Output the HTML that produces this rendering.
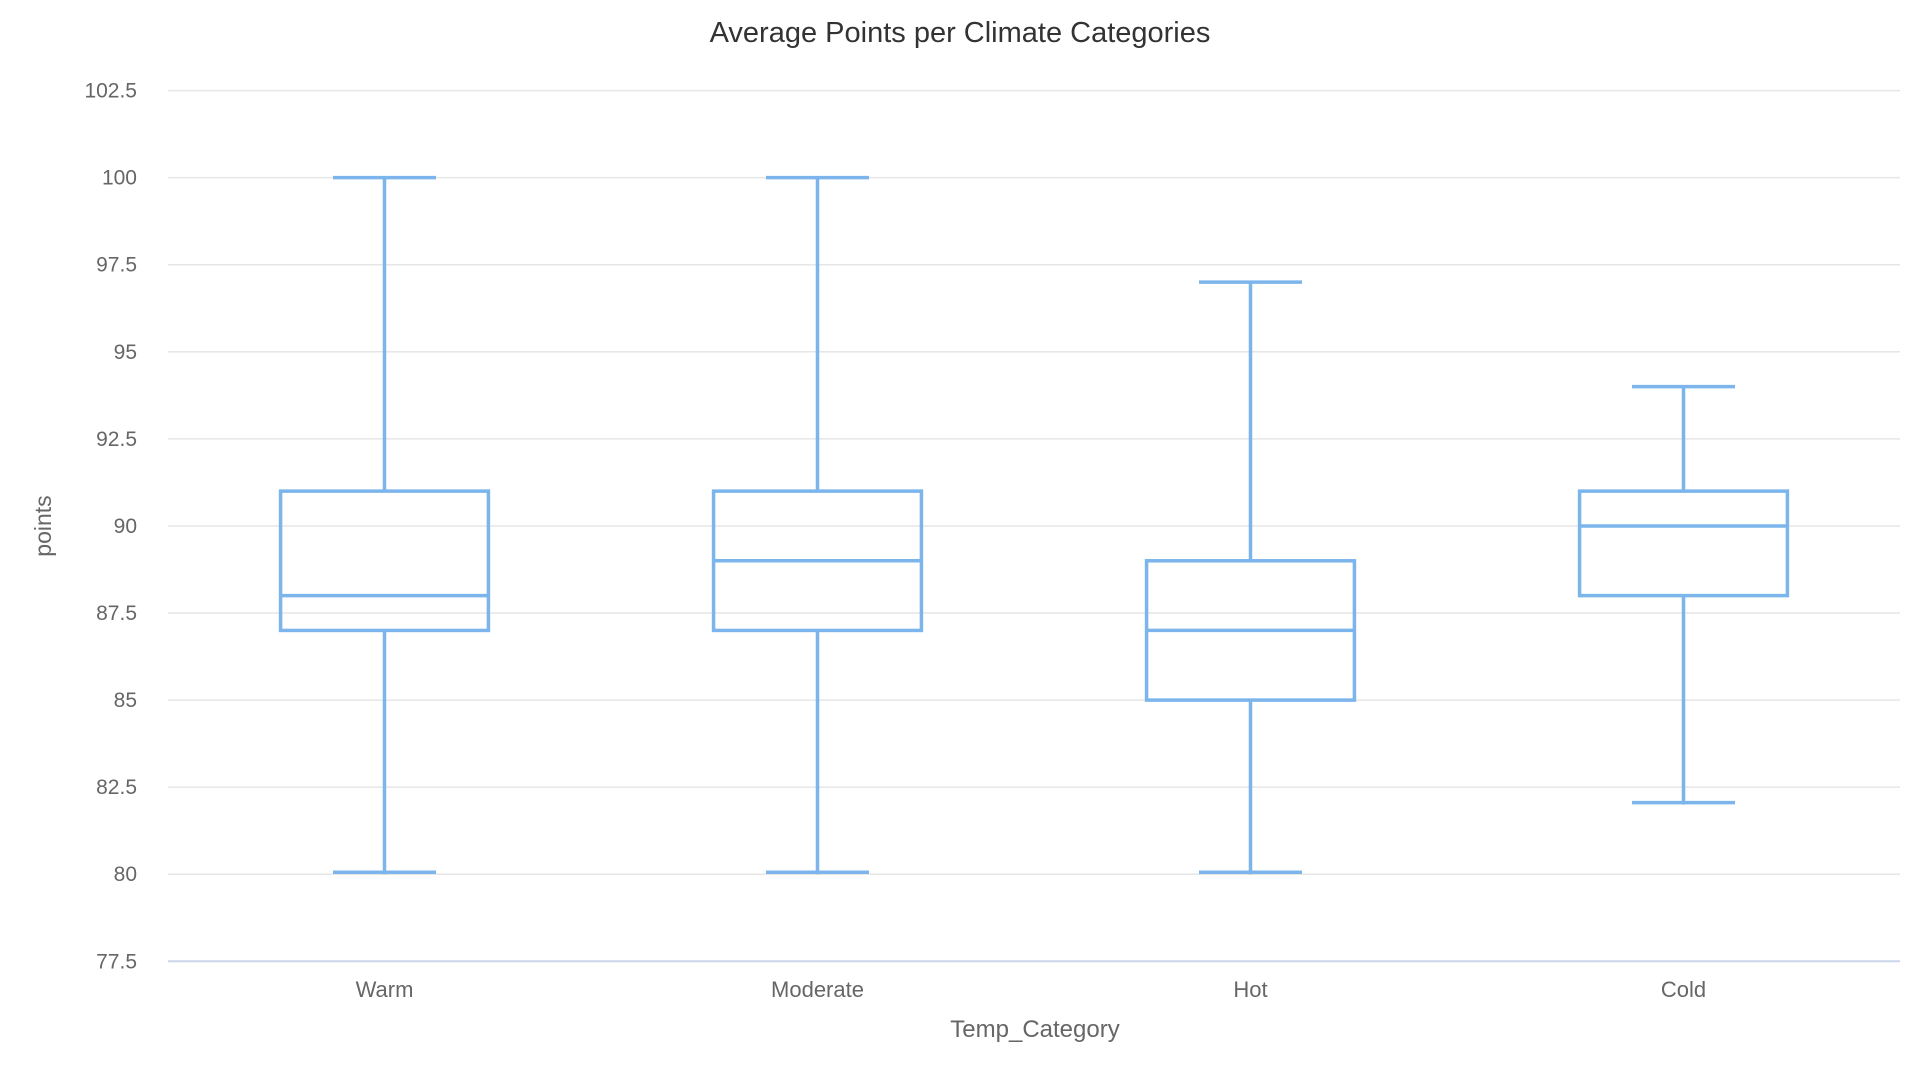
<!DOCTYPE html>
<html><head><meta charset="utf-8"><style>
html,body{margin:0;padding:0;background:#fff;width:1920px;height:1080px;overflow:hidden}
svg text{font-family:"Liberation Sans",sans-serif}
</style></head><body>
<svg id="chart" width="1920" height="1080">
<text x="960" y="42" text-anchor="middle" font-size="29" fill="#333">Average Points per Climate Categories</text>
<g id="grid"></g><g id="boxes"></g><g id="xlabels"></g>
<text x="1035" y="1037" text-anchor="middle" font-size="24" fill="#666">Temp_Category</text>
<text transform="translate(51,526) rotate(-90)" text-anchor="middle" font-size="23" fill="#666">points</text>
</svg>
<script>
const categories=["Warm","Moderate","Hot","Cold"];
const lows=[80,80,80,82];
const q1s=[87,87,85,88];
const medians=[88,89,87,90];
const q3s=[91,91,89,91];
const highs=[100,100,97,94];
const yTicks=[77.5,80,82.5,85,87.5,90,92.5,95,97.5,100,102.5];
const NS="http://www.w3.org/2000/svg";
const L=168,R=1900,T=90.6,B=961.3,yMin=77.5,yMax=102.5;
const y=v=>B-(v-yMin)/(yMax-yMin)*(B-T);
const cw=(R-L)/categories.length;
const x=i=>L+cw*(i+0.5);
function mk(tag,attrs,parent){const e=document.createElementNS(NS,tag);for(const k in attrs)e.setAttribute(k,attrs[k]);parent.appendChild(e);return e;}
const grid=document.getElementById('grid');
yTicks.forEach((t,i)=>{
  const ln=mk('line',{x1:L,x2:R,y1:y(t),y2:y(t),stroke:i===0?'#ccd6eb':'#e6e6e6','stroke-width':i===0?2:1.5},grid);
  
  
  const tx=mk('text',{x:137,y:y(t)+7,'text-anchor':'end','font-size':21,fill:'#666'},grid);
  tx.textContent=String(t);
  
  
});
const boxes=document.getElementById('boxes');
const bw=cw*0.48,cap=103,st={stroke:'#7cb5ec','stroke-width':3.5,fill:'none'};
categories.forEach((c,i)=>{
  const cx=x(i);
  const g=mk('g',{},boxes);
  
  
  mk('line',Object.assign({x1:cx,x2:cx,y1:y(highs[i]),y2:y(q3s[i])},st),g);
  mk('line',Object.assign({x1:cx,x2:cx,y1:y(q1s[i]),y2:y(lows[i])},st),g);
  mk('line',Object.assign({x1:cx-cap/2,x2:cx+cap/2,y1:y(highs[i]),y2:y(highs[i])},st),g);
  mk('line',Object.assign({x1:cx-cap/2,x2:cx+cap/2,y1:y(lows[i])-2,y2:y(lows[i])-2},st),g);
  mk('rect',Object.assign({x:cx-bw/2,y:y(q3s[i]),width:bw,height:y(q1s[i])-y(q3s[i])},st),g);
  mk('line',Object.assign({x1:cx-bw/2,x2:cx+bw/2,y1:y(medians[i]),y2:y(medians[i])},st),g);
  const tx=mk('text',{x:cx,y:997,'text-anchor':'middle','font-size':22,fill:'#666'},document.getElementById('xlabels'));
  tx.textContent=c;
  
  
});
</script>
</body></html>
